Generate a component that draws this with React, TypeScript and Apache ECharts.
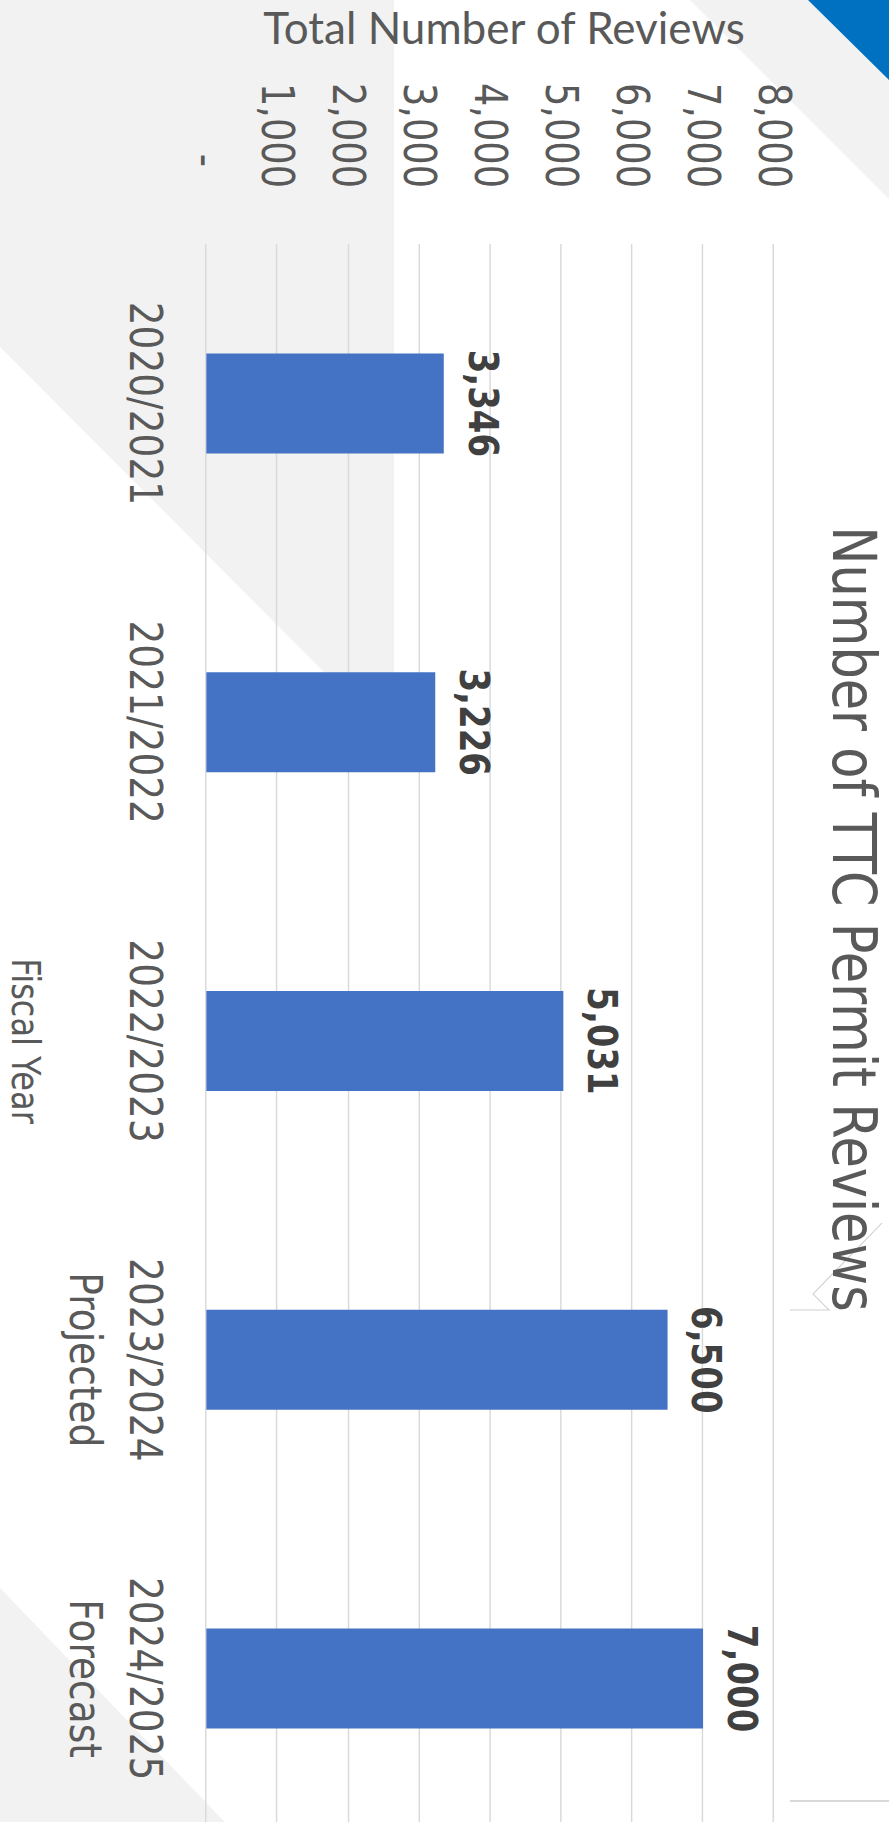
import React, { useEffect, useRef } from "react";
import * as echarts from "echarts";

// ---- data ----
const categories = [
  "2020/2021",
  "2021/2022",
  "2022/2023",
  "2023/2024\nProjected",
  "2024/2025\nForecast",
];
const reviews = [3346, 3226, 5031, 6500, 7000];
const valueMin = 0;
const valueMax = 8000;
const valueInterval = 1000;
const valueAxisTitle = "Total Number of Reviews";
const categoryAxisTitle = "Fiscal Year";
const chartTitle = "Number of TTC Permit Reviews";

// ---- page / chart geometry (the chart is drawn rotated 90deg clockwise) ----
const PAGE_W = 889;
const PAGE_H = 1822;
const CHART_W = 1838;
const CHART_H = 741;
const K = PAGE_W / CHART_H; // stretch along the value direction

// page (px, py) -> chart (ox, oy)
const toChart = (px: number, py: number): number[] => [py, (PAGE_W - px) / K];

const FONT = "DejaVu Sans";
const GREY_TEXT = "#595959";

export default function App() {
  const ref = useRef<HTMLDivElement>(null);

  useEffect(() => {
    if (!ref.current) return;
    const chart = echarts.init(ref.current, null, {
      renderer: "svg",
      width: CHART_W,
      height: CHART_H,
    });

    const poly = (pts: number[][], fill: string) => ({
      type: "polygon",
      z: -10,
      silent: true,
      shape: { points: pts.map(([x, y]) => toChart(x, y)) },
      style: { fill },
    });
    const pline = (pts: number[][], stroke: string, lw: number) => ({
      type: "polyline",
      z: -9,
      silent: true,
      shape: { points: pts.map(([x, y]) => toChart(x, y)) },
      style: { stroke, lineWidth: lw, fill: null },
    });

    const gridTop = (PAGE_W - 774) / K;
    const gridBottom = CHART_H - (PAGE_W - 202) / K;
    const titleCenter = (PAGE_W - 854) / K;
    const vTitlePos = toChart(504, 27.5);

    chart.setOption({
      animation: false,
      backgroundColor: "#ffffff",
      title: {
        text: chartTitle,
        left: "center",
        top: titleCenter - 25.5,
        padding: 0,
        textStyle: {
          fontFamily: FONT,
          fontWeight: "normal",
          fontSize: 51,
          lineHeight: 51,
          color: GREY_TEXT,
        },
      },
      graphic: [
        poly(
          [
            [0, 0],
            [394, 0],
            [394, 742],
            [0, 347],
          ],
          "#F2F2F2"
        ),
        poly(
          [
            [690, 0],
            [889, 0],
            [889, 199],
          ],
          "#F2F2F2"
        ),
        poly(
          [
            [808, 0],
            [889, 0],
            [889, 80],
          ],
          "#0070C0"
        ),
        poly(
          [
            [0, 1588],
            [240, 1838],
            [0, 1838],
          ],
          "#F2F2F2"
        ),
        pline(
          [
            [790, 1310],
            [829, 1310],
            [813, 1294],
            [882, 1223],
          ],
          "#CFCFCF",
          1
        ),
        pline(
          [
            [790, 1801],
            [889, 1801],
          ],
          "#D9D9D9",
          2
        ),
        {
          type: "text",
          x: vTitlePos[0],
          y: vTitlePos[1],
          rotation: Math.PI / 2,
          scaleX: 1 / K,
          z: 5,
          silent: true,
          style: {
            text: valueAxisTitle,
            fontFamily: "Lato",
            fontSize: 44,
            fill: GREY_TEXT,
            align: "center",
            verticalAlign: "middle",
          },
        },
      ],
      grid: {
        left: 244,
        right: 0,
        top: gridTop,
        bottom: gridBottom,
        containLabel: false,
      },
      xAxis: {
        type: "category",
        data: categories,
        axisLine: { show: false },
        axisTick: { show: false },
        axisLabel: {
          interval: 0,
          margin: 26,
          fontFamily: FONT,
          fontSize: 37.5,
          lineHeight: 50,
          color: GREY_TEXT,
        },
        name: categoryAxisTitle,
        nameLocation: "middle",
        nameGap: 135,
        nameTextStyle: {
          fontFamily: FONT,
          fontSize: 32,
          lineHeight: 32,
          color: GREY_TEXT,
        },
      },
      yAxis: {
        type: "value",
        min: valueMin,
        max: valueMax,
        interval: valueInterval,
        axisLine: { show: false },
        axisTick: { show: false },
        splitLine: { show: true, lineStyle: { color: "#D9D9D9", width: 1.2 } },
        axisLabel: {
          margin: 56,
          fontFamily: FONT,
          fontSize: 36.7,
          color: GREY_TEXT,
          formatter: (v: number) =>
            v === 0 ? "{d|-}" : v.toLocaleString("en-US"),
          rich: {
            d: {
              fontFamily: FONT,
              fontSize: 36.7,
              color: GREY_TEXT,
              padding: [0, 21, 0, 0],
            },
          },
        },
      },
      series: [
        {
          type: "bar",
          data: reviews,
          barWidth: 100,
          itemStyle: { color: "#4472C4" },
          label: {
            show: true,
            position: "top",
            distance: 15.5,
            fontFamily: FONT,
            fontWeight: "bold",
            fontSize: 34,
            lineHeight: 34,
            color: "#404040",
            formatter: (p: any) => Number(p.value).toLocaleString("en-US"),
          },
        },
      ],
    });

    return () => {
      chart.dispose();
    };
  }, []);

  return (
    <div
      style={{
        position: "fixed",
        left: 0,
        top: 0,
        width: PAGE_W,
        height: PAGE_H,
        overflow: "hidden",
        background: "#ffffff",
      }}
    >
      <div
        ref={ref}
        style={{
          position: "absolute",
          left: 0,
          top: 0,
          width: CHART_W,
          height: CHART_H,
          transformOrigin: "0 0",
          transform: `translate(${PAGE_W}px, 0px) rotate(90deg) scale(1, ${K})`,
        }}
      />
    </div>
  );
}
